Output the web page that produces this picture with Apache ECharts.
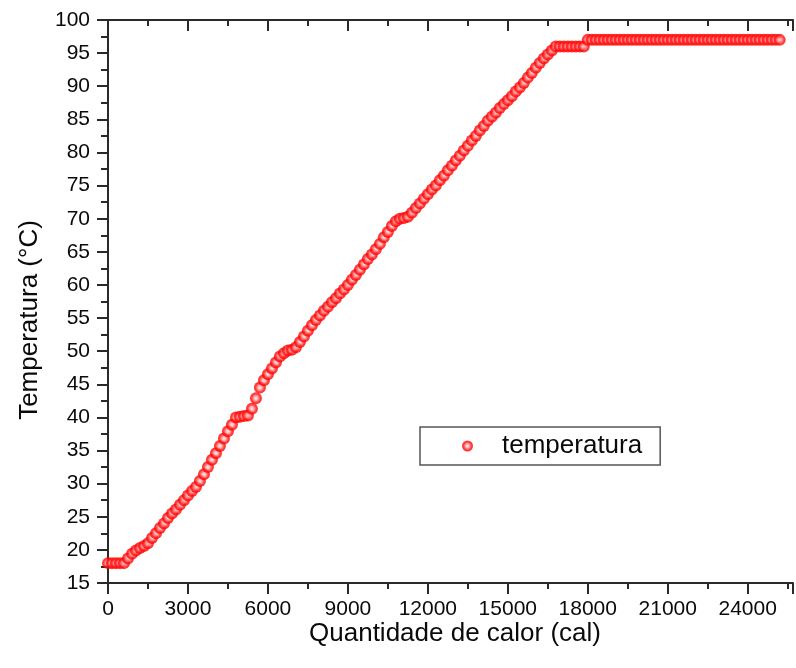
<!DOCTYPE html>
<html>
<head>
<meta charset="utf-8">
<script src="https://cdn.jsdelivr.net/npm/echarts@6/dist/echarts.min.js"></script>
<style>
html,body{margin:0;padding:0;background:#fff;}
#chart{width:796px;height:668px;}
</style>
</head>
<body>
<div id="chart"></div>
<script>
// Heat added (cal)
const heat = [
  0,150,300,450,600,750,900,1050,1200,1350,
  1500,1650,1800,1950,2100,2250,2400,2550,2700,2850,
  3000,3150,3300,3450,3600,3750,3900,4050,4200,4350,
  4500,4650,4800,4950,5100,5250,5400,5550,5700,5850,
  6000,6150,6300,6450,6600,6750,6900,7050,7200,7350,
  7500,7650,7800,7950,8100,8250,8400,8550,8700,8850,
  9000,9150,9300,9450,9600,9750,9900,10050,10200,10350,
  10500,10650,10800,10950,11100,11250,11400,11550,11700,11850,
  12000,12150,12300,12450,12600,12750,12900,13050,13200,13350,
  13500,13650,13800,13950,14100,14250,14400,14550,14700,14850,
  15000,15150,15300,15450,15600,15750,15900,16050,16200,16350,
  16500,16650,16800,16950,17100,17250,17400,17550,17700,17850,
  18000,18150,18300,18450,18600,18750,18900,19050,19200,19350,
  19500,19650,19800,19950,20100,20250,20400,20550,20700,20850,
  21000,21150,21300,21450,21600,21750,21900,22050,22200,22350,
  22500,22650,22800,22950,23100,23250,23400,23550,23700,23850,
  24000,24150,24300,24450,24600,24750,24900,25050,25200
];
// Temperature (°C)
const temperatura = [
  18,18,18,18,18,18.7,19.4,19.9,20.3,20.6,
  21.0,21.8,22.5,23.3,24.0,24.8,25.5,26.1,26.8,27.5,
  28.2,28.9,29.5,30.4,31.4,32.5,33.6,34.6,35.7,36.8,
  37.9,38.9,40.0,40.1,40.2,40.3,41.3,42.9,44.5,45.6,
  46.5,47.4,48.3,49.2,49.7,50.1,50.2,50.6,51.4,52.2,
  53.1,53.9,54.7,55.4,56.1,56.7,57.4,58.0,58.7,59.3,
  60.0,60.8,61.5,62.3,63.1,63.9,64.6,65.4,66.2,67.2,
  68.0,68.9,69.6,70.0,70.1,70.3,70.9,71.6,72.3,73.0,
  73.7,74.4,75.0,75.8,76.5,77.3,78.0,78.8,79.5,80.3,
  81.0,81.8,82.5,83.3,84.0,84.8,85.4,86.0,86.7,87.3,
  87.9,88.5,89.2,89.8,90.5,91.3,92.0,92.8,93.5,94.2,
  94.8,95.4,96.0,96,96,96,96,96,96,96,
  97,97,97,97,97,97,97,97,97,97,
  97,97,97,97,97,97,97,97,97,97,
  97,97,97,97,97,97,97,97,97,97,
  97,97,97,97,97,97,97,97,97,97,
  97,97,97,97,97,97,97,97,97
];
const seriesName = 'temperatura';
const xTitle = 'Quantidade de calor (cal)';
const yTitle = 'Temperatura (°C)';
const xMin = 0, xMax = 25700, xMajor = 3000, xMinor = 1500;
const yMin = 15, yMax = 100, yMajor = 5;

const FONT = '"Liberation Sans", Arial, Helvetica, sans-serif';
const AX = '#2a2a2a';
const TXT = '#0a0a0a';
const data = heat.map((q, i) => [q, temperatura[i]]);

function xAx(pos, interval, len, inside, showLine, showLabel) {
  return {
    type: 'value', position: pos, min: xMin, max: xMax, interval: interval,
    axisLine: {show: showLine, lineStyle: {color: AX, width: 2}},
    axisTick: {show: true, inside: inside, length: len, lineStyle: {color: AX, width: 2}},
    axisLabel: {show: showLabel, margin: 16, fontSize: 21, fontFamily: FONT, color: TXT,
      formatter: v => (v % xMajor === 0 ? String(v) : '')},
    splitLine: {show: false}
  };
}
function yAx(pos, inside, len, mlen, showLabel) {
  return {
    type: 'value', position: pos, min: yMin, max: yMax, interval: yMajor,
    axisLine: {show: true, lineStyle: {color: AX, width: 2}},
    axisTick: {show: true, inside: inside, length: len, lineStyle: {color: AX, width: 2}},
    minorTick: {show: true, splitNumber: 2, length: mlen, lineStyle: {color: AX, width: 2}},
    axisLabel: {show: showLabel, margin: 18, fontSize: 21, fontFamily: FONT, color: TXT},
    splitLine: {show: false}
  };
}

const markerFill = {
  type: 'radial', x: 0.5, y: 0.5, r: 0.5,
  colorStops: [
    {offset: 0, color: '#ffe8e8'},
    {offset: 0.35, color: '#ff9a9a'},
    {offset: 0.7, color: '#ff1010'},
    {offset: 1, color: '#ff0000'}
  ]
};

const chart = echarts.init(document.getElementById('chart'));
chart.setOption({
  animation: false,
  backgroundColor: '#ffffff',
  grid: {left: 108, top: 20, right: 0, bottom: 85, containLabel: false},
  xAxis: [
    xAx('bottom', xMajor, 11, false, true, true),
    xAx('bottom', xMinor, 6, false, false, false),
    xAx('top', xMajor, 11, true, true, false),
    xAx('top', xMinor, 6, true, false, false)
  ],
  yAxis: [
    yAx('left', false, 11, 7, true),
    yAx('right', true, 11, 6, false)
  ],
  legend: {
    left: 420, top: 427,
    orient: 'horizontal',
    padding: [6, 18, 6, 42],
    borderColor: '#555', borderWidth: 1.5, borderRadius: 0,
    backgroundColor: '#fff',
    itemWidth: 11, itemHeight: 11,
    textStyle: {fontSize: 26, fontFamily: FONT, color: TXT, lineHeight: 26, padding: [0, 0, 0, 24]},
    data: [{name: seriesName, icon: 'circle'}]
  },
  graphic: [
    {type: 'text', x: 455, y: 634, style: {text: xTitle, fontSize: 26, fontFamily: FONT, fill: TXT, align: 'center', verticalAlign: 'middle'}},
    {type: 'text', x: 30, y: 320, rotation: Math.PI / 2, style: {text: yTitle, fontSize: 26, fontFamily: FONT, fill: TXT, align: 'center', verticalAlign: 'middle'}}
  ],
  series: [{
    name: seriesName,
    type: 'scatter',
    xAxisIndex: 0, yAxisIndex: 0,
    symbol: 'circle', symbolSize: 12,
    itemStyle: {color: markerFill},
    data: data
  }]
});
</script>
</body>
</html>
